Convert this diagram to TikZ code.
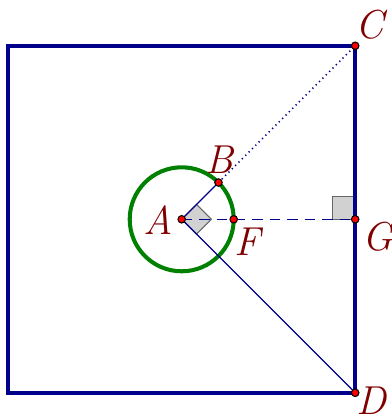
\documentclass[tikz,border=0pt]{standalone}
\usepackage{tikz}
\usetikzlibrary{positioning, calc}
\definecolor{Navy}{HTML}{00008B}
\definecolor{Leaf}{HTML}{008000}
\definecolor{Maroon}{HTML}{800000}

\begin{document}
\begin{tikzpicture}[
    pt/.style={circle, draw=black, fill=red, inner sep=0pt, minimum size=1.5mm, line width=0.6pt},
    lbl/.style={text=Maroon, font=\fontsize{23}{27}\selectfont\itshape, inner sep=0pt},
    rmark/.style={fill=black!18, draw=black!60, line width=0.6pt},
    seg/.style={draw=Navy, line width=0.7pt}
]
\useasboundingbox (-3.634,-3.994) rectangle (4.186,4.386);

\coordinate (A) at (0,0);
\coordinate (C) at (3.47,3.47);
\coordinate (D) at (3.47,-3.47);
\coordinate (G) at (3.47,0);
\coordinate (B) at (45:1.04);
\coordinate (F) at (1.04,0);

% right angle marks
\draw[rmark] (A) -- (45:0.42) -- ($(45:0.42)+(-45:0.42)$) -- (-45:0.42) -- cycle;
\draw[rmark] (G) rectangle ++(-0.45,0.45);

% square and circle
\draw[Navy, line width=2.3pt] (-3.47,-3.47) rectangle (C);
\draw[Leaf, line width=2.3pt] (A) circle (1.04);

% segments
\draw[seg] (A) -- (D);
\draw[seg] (A) -- (B);
\draw[seg, dotted, line width=0.9pt] (B) -- (C);
\draw[seg, dash pattern=on 6pt off 4pt] (A) -- (G);

% points
\node[pt] (pA) at (A) {};
\node[pt] (pB) at (B) {};
\node[pt] (pC) at (C) {};
\node[pt] (pD) at (D) {};
\node[pt] (pF) at (F) {};
\node[pt] (pG) at (G) {};

% labels
\node[lbl] (lA) at (-0.468,-0.014) {A};
\node[lbl] (lB) at (0.746,1.186) {B};
\node[lbl] (lC) at (3.766,3.886) {C};
\node[lbl] (lD) at (3.80,-3.63) {D};
\node[lbl] (lF) at (1.32,-0.448) {F};
\node[lbl] (lG) at (3.92,-0.348) {G};
\end{tikzpicture}
\end{document}
